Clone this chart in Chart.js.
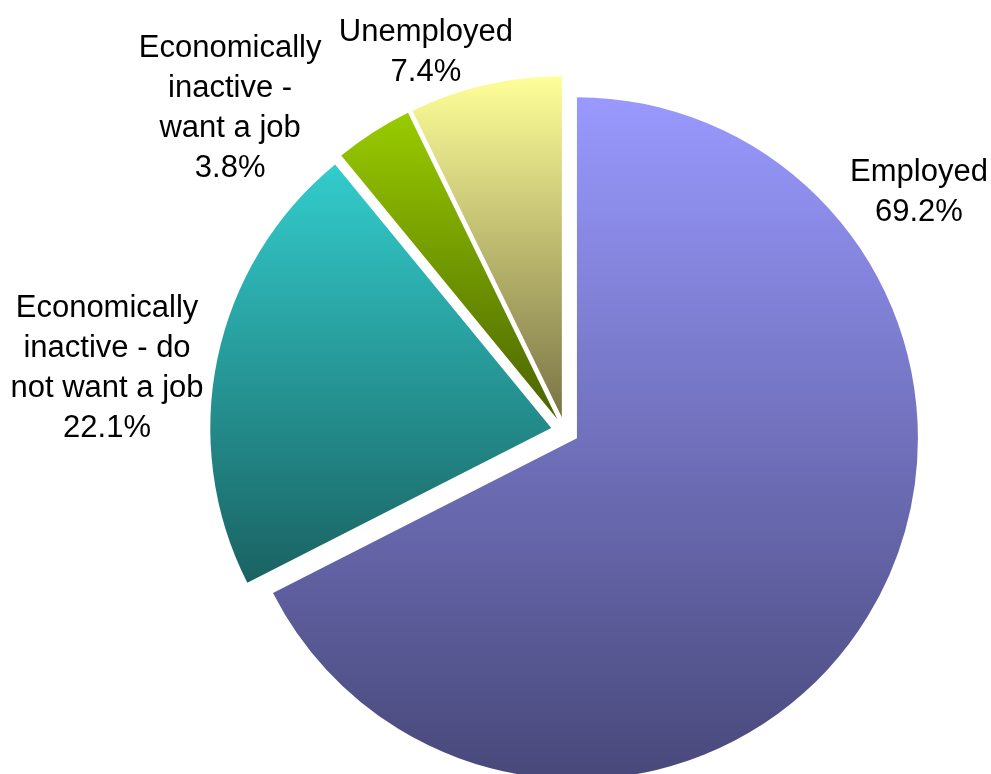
<!DOCTYPE html>
<html>
<head>
<meta charset="utf-8">
<title>Economic activity</title>
<script src="https://cdn.jsdelivr.net/npm/chart.js@4.4.1/dist/chart.umd.min.js"></script>
<style>
  html, body { margin: 0; padding: 0; background: #fff; }
  #wrap { position: relative; width: 991px; height: 774px; }
</style>
</head>
<body>
<div id="wrap"><canvas id="chart"></canvas></div>
<script>
const categories = [
    ['Employed'],
    ['Economically', 'inactive - do', 'not want a job'],
    ['Economically', 'inactive -', 'want a job'],
    ['Unemployed']
];
const shares = [69.2, 22.1, 3.8, 7.4];

// each slice fades from its top colour down to its bottom colour
const topColours = ['#9999ff', '#33cccc', '#99cc00', '#ffff99'];
const bottomColours = ['#48487a', '#1a6262', '#4a6300', '#7a7446'];

// centre of each label block, in pie radii from the pie centre
const labelSpots = [
    [1.038, -0.700],
    [-1.343, -0.182],
    [-0.982, -0.947],
    [-0.408, -1.111]
];

const EXPLODE = 14;
const FONT = '31px "Liberation Sans", Arial, sans-serif';
const LINE = 40;

// pull every slice out from the centre and give it its own gradient
const explodeFill = {
    id: 'explodeFill',
    afterUpdate(chart) {
        const ctx = chart.ctx;
        chart.getDatasetMeta(0).data.forEach((arc, i) => {
            const mid = (arc.startAngle + arc.endAngle) / 2;
            arc.x += Math.cos(mid) * EXPLODE;
            arc.y += Math.sin(mid) * EXPLODE;

            const r = arc.outerRadius;
            const ys = [arc.y, arc.y + Math.sin(arc.startAngle) * r, arc.y + Math.sin(arc.endAngle) * r];
            [-Math.PI / 2, Math.PI / 2, 3 * Math.PI / 2].forEach(a => {
                if (a >= arc.startAngle && a <= arc.endAngle) ys.push(arc.y + Math.sin(a) * r);
            });
            const g = ctx.createLinearGradient(0, Math.min(...ys), 0, Math.max(...ys));
            g.addColorStop(0, topColours[i]);
            g.addColorStop(1, bottomColours[i]);
            arc.options.backgroundColor = g;
        });
    }
};

const sliceLabels = {
    id: 'sliceLabels',
    afterDatasetsDraw(chart) {
        const { ctx, chartArea } = chart;
        const cx = (chartArea.left + chartArea.right) / 2;
        const cy = (chartArea.top + chartArea.bottom) / 2;
        const r = chart.getDatasetMeta(0).controller.outerRadius;
        ctx.save();
        ctx.font = FONT;
        ctx.fillStyle = '#000';
        ctx.textAlign = 'center';
        ctx.textBaseline = 'middle';
        chart.data.labels.forEach((name, i) => {
            const lines = name.concat(chart.data.datasets[0].data[i].toFixed(1) + '%');
            const x = cx + labelSpots[i][0] * r;
            const y0 = cy + labelSpots[i][1] * r - (lines.length - 1) * LINE / 2;
            lines.forEach((t, k) => ctx.fillText(t, x, y0 + k * LINE));
        });
        ctx.restore();
    }
};

new Chart(document.getElementById('chart'), {
    type: 'pie',
    data: {
        labels: categories,
        datasets: [{
            data: shares,
            backgroundColor: topColours,
            borderWidth: 0
        }]
    },
    options: {
        responsive: true,
        maintainAspectRatio: false,
        animation: false,
        events: [],
        layout: {
            padding: { top: 90, bottom: 2, left: 224, right: 85 }
        },
        plugins: {
            legend: { display: false },
            tooltip: { enabled: false }
        }
    },
    plugins: [explodeFill, sliceLabels]
});
</script>
</body>
</html>
